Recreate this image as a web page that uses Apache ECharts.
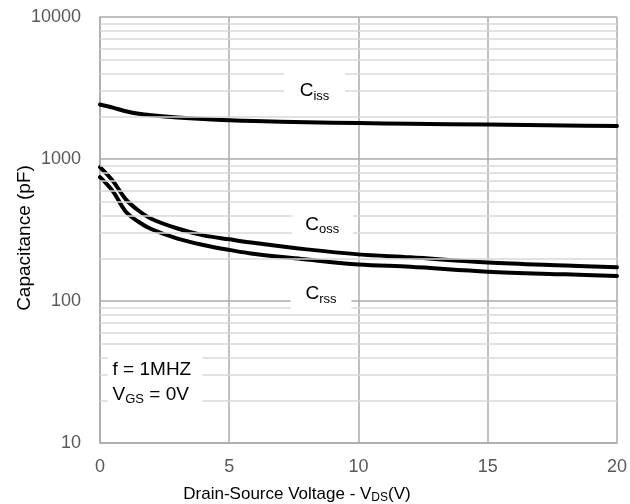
<!DOCTYPE html>
<html>
<head>
<meta charset="utf-8">
<script src="https://cdn.jsdelivr.net/npm/echarts@6/dist/echarts.min.js"></script>
<style>
  html, body { margin: 0; padding: 0; background: #fff; }
  #chart { width: 630px; height: 504px; }
</style>
</head>
<body>
<div id="chart"></div>
<script>
// Drain-source voltage (V) sample points
const vds = [0, 0.5, 1, 1.5, 2, 3, 4, 5, 6, 8, 10, 12, 15, 18, 20];
// Capacitances (pF)
const ciss = [2420, 2300, 2170, 2080, 2030, 1960, 1910, 1875, 1850, 1815, 1790, 1770, 1750, 1720, 1705];
const coss = [877, 700, 520, 432, 378, 324, 290, 272, 256, 231, 213, 203, 187, 178, 173];
const crss = [745, 592, 425, 360, 320, 275, 248, 229, 214, 196, 181, 174, 161, 154, 150];

// Axis ticks
const xTicks = [0, 5, 10, 15, 20];
const yTickLabels = ['10', '100', '1000', '10000'];

const FONT = '"Liberation Sans", Arial, sans-serif';
const MAJOR = '#ababab';
const MINOR = '#d9d9d9';

// minor log gridlines at 2..9 of each decade
const minorLines = [];
[10, 100, 1000].forEach(function (dec) {
  for (let d = 2; d <= 9; d++) minorLines.push({ yAxis: d * dec });
});

const pairs = arr => vds.map((v, i) => [v, arr[i]]);

const subRich = {
  m: { fontSize: 19, fontFamily: FONT, color: '#000' },
  s: { fontSize: 13, fontFamily: FONT, color: '#000', padding: [10, 0, 0, 0] }
};

function tag(coord, size, text) {
  return {
    coord: coord,
    symbol: 'rect',
    symbolSize: size,
    itemStyle: { color: '#fff' },
    label: {
      show: true,
      position: 'inside',
      formatter: text,
      rich: subRich,
      fontFamily: FONT
    }
  };
}

function curve(name, arr, marks) {
  return {
    name: name,
    type: 'line',
    z: 3,
    data: pairs(arr),
    smooth: 0.35,
    showSymbol: false,
    lineStyle: { color: '#000', width: 4, join: 'round', cap: 'round' },
    itemStyle: { color: '#000' },
    markPoint: { silent: true, animation: false, data: marks }
  };
}

const chart = echarts.init(document.getElementById('chart'), null, { renderer: 'canvas' });

chart.setOption({
  animation: false,
  backgroundColor: '#fff',
  grid: { left: 100, top: 17, width: 520, height: 426 },
  xAxis: {
    type: 'value',
    min: xTicks[0],
    max: xTicks[xTicks.length - 1],
    interval: 5,
    axisLine: { show: true, lineStyle: { color: MAJOR, width: 1.5 } },
    axisTick: { show: false },
    axisLabel: { color: '#595959', fontSize: 18, fontFamily: FONT, margin: 15 },
    splitLine: { show: true, lineStyle: { color: MAJOR, width: 1.5 } }
  },
  yAxis: {
    type: 'log',
    logBase: 10,
    min: 10,
    max: 10000,
    axisLine: { show: true, lineStyle: { color: MAJOR, width: 1.5 } },
    axisTick: { show: false },
    axisLabel: {
      color: '#595959', fontSize: 18, fontFamily: FONT, margin: 19,
      formatter: function (v) {
        const i = Math.round(Math.log10(v)) - 1;
        return yTickLabels[i] !== undefined ? yTickLabels[i] : '';
      }
    },
    splitLine: { show: true, lineStyle: { color: MAJOR, width: 1.5 } }
  },
  graphic: [
    {
      type: 'text', x: 25, y: 238, rotation: Math.PI / 2,
      style: {
        text: 'Capacitance (pF)', fontSize: 19, fontFamily: FONT, fill: '#000',
        align: 'center', verticalAlign: 'middle'
      }
    },
    {
      type: 'text', x: 297, y: 494,
      style: {
        text: 'Drain-Source Voltage - V{s|DS}(V)', fontSize: 17, fontFamily: FONT, fill: '#000',
        align: 'center', verticalAlign: 'middle',
        rich: { s: { fontSize: 12, fontFamily: FONT, fill: '#000', padding: [8, 0, 0, 0] } }
      }
    }
  ],
  series: [
    {
      // carries the minor log gridlines beneath everything else
      name: 'grid',
      type: 'line',
      z: 1,
      silent: true,
      data: pairs(ciss),
      showSymbol: false,
      lineStyle: { opacity: 0 },
      markLine: {
        silent: true,
        animation: false,
        symbol: ['none', 'none'],
        label: { show: false },
        lineStyle: { color: MINOR, width: 1.5, type: 'solid' },
        data: minorLines
      }
    },
    curve('Ciss', ciss, [tag([8.3, 3000], [61, 38], '{m|C}{s|iss}')]),
    curve('Coss', coss, [tag([8.6, 345], [61, 38], '{m|C}{s|oss}')]),
    curve('Crss', crss, [
      tag([8.55, 112], [61, 38], '{m|C}{s|rss}'),
      {
        coord: [2.13, 27.7],
        symbol: 'rect',
        symbolSize: [95, 62],
        itemStyle: { color: '#fff' },
        label: {
          show: true,
          position: [5, 8],
          align: 'left',
          verticalAlign: 'top',
          lineHeight: 25,
          formatter: '{m|f = 1MHZ}\n{m|V}{s|GS}{m| = 0V}',
          rich: {
            m: { fontSize: 19, fontFamily: FONT, color: '#000', lineHeight: 25 },
            s: { fontSize: 13, fontFamily: FONT, color: '#000', lineHeight: 25, padding: [10, 0, 0, 0] }
          }
        }
      }
    ])
  ]
});
</script>
</body>
</html>
